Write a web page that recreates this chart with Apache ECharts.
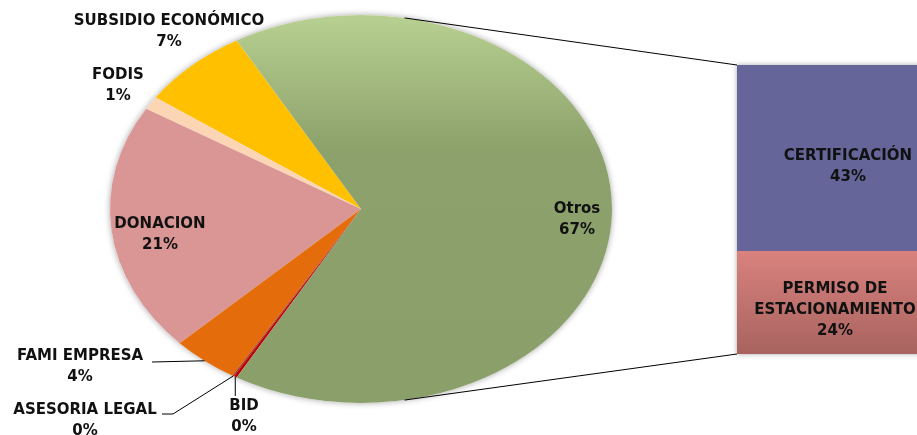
<!DOCTYPE html>
<html>
<head>
<meta charset="utf-8">
<script src="https://cdn.jsdelivr.net/npm/echarts@6/dist/echarts.min.js"></script>
<style>
  html, body { margin: 0; padding: 0; background: #fff; }
  #chart { width: 917px; height: 435px; }
</style>
</head>
<body>
<div id="chart"></div>
<script>
// porciones del pie, en sentido antihorario desde "Otros"
const pieNames = ['SUBSIDIO ECONÓMICO', 'FODIS', 'DONACION', 'FAMI EMPRESA', 'ASESORIA LEGAL', 'BID'];
const pieValues = [7.0, 1.1, 20.8, 4.3, 0.1, 0.2];
// desglose de "Otros" (barra de la derecha)
const barNames = ['CERTIFICACIÓN', 'PERMISO DE ESTACIONAMIENTO'];
const barValues = [42.8, 23.7];
const otrosName = 'Otros';

// colores
const pieColors = {
  'SUBSIDIO ECONÓMICO': '#FFC000',
  'FODIS': '#FCD5B5',
  'DONACION': '#D99694',
  'FAMI EMPRESA': '#E46C0A',
  'ASESORIA LEGAL': '#953735',
  'BID': '#C00000',
  'Otros': {
    type: 'linear', x: 0, y: 0, x2: 0, y2: 1,
    colorStops: [
      { offset: 0, color: '#B8D091' },
      { offset: 0.35, color: '#8CA16B' },
      { offset: 1, color: '#8A9F69' },
    ],
  },
};
const barColors = {
  'CERTIFICACIÓN': '#65659A',
  'PERMISO DE ESTACIONAMIENTO': {
    type: 'linear', x: 0, y: 0, x2: 0, y2: 1,
    colorStops: [
      { offset: 0, color: '#D9827E' },
      { offset: 1, color: '#A8635F' },
    ],
  },
};

// geometría (elipse del pie y rejilla de la barra, recortada por el borde)
const CX = 361, CY = 209, RX = 251, RY = 194;
const BAR_LEFT = 737, BAR_TOP = 65, BAR_W = 180, BAR_H = 289;
const LINK_ANGLE = 80; // grados, donde salen las líneas de conexión

// posición de las etiquetas (centro del bloque de texto)
const labelLayout = {
  'SUBSIDIO ECONÓMICO': { pos: [169, 32] },
  'FODIS': { pos: [118, 86] },
  'DONACION': { pos: [160, 235] },
  'FAMI EMPRESA': { pos: [80, 367], lead: [[152, 362]] },
  'ASESORIA LEGAL': { pos: [85, 421], lead: [[162, 414], [173, 414]] },
  'BID': { pos: [244, 417], vertical: 396 },
  'Otros': { pos: [577, 220] },
};
// la barra original sigue más allá del borde: etiquetas desplazadas
const barLabelOffset = {
  'CERTIFICACIÓN': [21, 9],
  'PERMISO DE ESTACIONAMIENTO': [8, 8],
};

const FONT = { fontFamily: 'DejaVu Sans', fontWeight: 'bold', fontSize: 15 };

const otrosValue = barValues.reduce((a, b) => a + b, 0);
const total = pieValues.reduce((a, b) => a + b, 0) + otrosValue;
const pct = (v) => Math.round((v / total) * 100) + '%';
const rad = (d) => (d * Math.PI) / 180;

// ángulos de cada porción ("Otros" centrado a la derecha)
const otrosHalf = (otrosValue / total) * 180;
const slices = [];
let cursor = -otrosHalf;
pieNames.forEach((name, i) => {
  const span = (pieValues[i] / total) * 360;
  slices.push({ name, value: pieValues[i], a0: cursor - span, a1: cursor });
  cursor -= span;
});
slices.push({ name: otrosName, value: otrosValue, a0: -otrosHalf, a1: otrosHalf });

function renderSlice(params) {
  const s = slices[params.dataIndex];
  const lay = labelLayout[s.name];
  const mid = rad((s.a0 + s.a1) / 2);
  const edge = [CX + RX * Math.cos(mid), CY + RY * Math.sin(mid)];
  const children = [{
    type: 'sector',
    x: CX, y: CY, scaleX: RX / RY, scaleY: 1,
    shape: { cx: 0, cy: 0, r0: 0, r: RY, startAngle: rad(s.a0), endAngle: rad(s.a1), clockwise: true },
    style: { fill: pieColors[s.name] },
  }];
  if (lay.lead) {
    children.push({
      type: 'polyline',
      shape: { points: lay.lead.concat([edge]) },
      style: { stroke: '#000', lineWidth: 1, fill: null },
    });
  }
  if (lay.vertical) {
    children.push({
      type: 'line',
      shape: { x1: edge[0], y1: edge[1], x2: edge[0], y2: lay.vertical },
      style: { stroke: '#000', lineWidth: 1 },
    });
  }
  children.push({
    type: 'text',
    x: lay.pos[0], y: lay.pos[1],
    style: Object.assign({
      text: s.name + '\n' + pct(s.value),
      align: 'center', verticalAlign: 'middle',
      lineHeight: 21, fill: '#111',
    }, FONT),
    z2: 10,
  });
  return { type: 'group', children };
}

const linkTop = [CX + RX * Math.cos(rad(-LINK_ANGLE)), CY + RY * Math.sin(rad(-LINK_ANGLE))];
const linkBot = [CX + RX * Math.cos(rad(LINK_ANGLE)), CY + RY * Math.sin(rad(LINK_ANGLE))];

const chart = echarts.init(document.getElementById('chart'));
chart.setOption({
  animation: false,
  backgroundColor: '#fff',
  grid: { left: BAR_LEFT, top: BAR_TOP, width: BAR_W, height: BAR_H },
  xAxis: { type: 'category', data: [''], show: false },
  yAxis: { type: 'value', min: 0, max: otrosValue, show: false },
  graphic: [
    {
      type: 'ellipse', z: 0,
      shape: { cx: CX, cy: CY, rx: RX, ry: RY },
      style: { fill: '#fff', shadowBlur: 6, shadowColor: 'rgba(0,0,0,0.35)' },
    },
    {
      type: 'rect', z: 0,
      shape: { x: BAR_LEFT, y: BAR_TOP, width: BAR_W + 20, height: BAR_H },
      style: { fill: '#fff', shadowBlur: 5, shadowColor: 'rgba(0,0,0,0.35)' },
    },
    {
      type: 'line', z: 20,
      shape: { x1: linkTop[0], y1: linkTop[1], x2: BAR_LEFT, y2: BAR_TOP },
      style: { stroke: '#000', lineWidth: 1 },
    },
    {
      type: 'line', z: 20,
      shape: { x1: linkBot[0], y1: linkBot[1], x2: BAR_LEFT, y2: BAR_TOP + BAR_H },
      style: { stroke: '#000', lineWidth: 1 },
    },
  ],
  series: [
    {
      type: 'custom',
      coordinateSystem: 'none',
      renderItem: renderSlice,
      data: slices.map((s) => [s.value]),
      z: 5,
    },
  ].concat(barNames.slice().reverse().map((name) => ({
    type: 'bar',
    name,
    stack: 'otros',
    barWidth: '100%',
    z: 5,
    itemStyle: { color: barColors[name] },
    label: Object.assign({
      show: true,
      position: 'inside',
      offset: barLabelOffset[name],
      color: '#111',
      lineHeight: 21,
      formatter: (p) => p.seriesName.replace(' DE ', ' DE\n') + '\n' + pct(p.value),
    }, FONT),
    data: [barValues[barNames.indexOf(name)]],
  }))),
});
</script>
</body>
</html>
